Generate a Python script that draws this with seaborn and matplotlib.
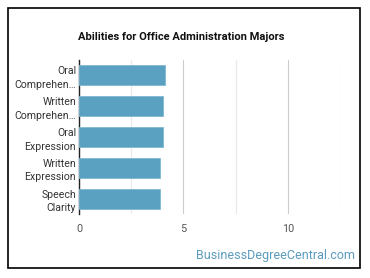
import matplotlib
matplotlib.use('Agg')
import matplotlib.pyplot as plt
import seaborn as sns
import pandas as pd
from matplotlib.patches import Rectangle
from matplotlib.ticker import MultipleLocator

# chart data
abilities = [
    'Oral\nComprehen…',
    'Written\nComprehen…',
    'Oral\nExpression',
    'Written\nExpression',
    'Speech\nClarity'
]
scores = [4.12, 4.0, 4.0, 3.88, 3.88]
x_ticks = [0, 5, 10]

df = pd.DataFrame({'ability': abilities, 'score': scores})

sns.set_style('white')
plt.rcParams['font.family'] = ['Roboto', 'DejaVu Sans']

W, H = 370, 278
fig = plt.figure(figsize=(W / 100, H / 100), dpi=100)

# axes placed in pixel terms
left, right, top, bottom = 79, 340, 60, 214
ax = fig.add_axes([left / W, 1 - bottom / H, (right - left) / W, (bottom - top) / H])

sns.barplot(data=df, x='score', y='ability', color='#5aa1c1', saturation=1,
            width=0.65, edgecolor='#80b8d2', linewidth=0.6, ax=ax, zorder=3)

ax.set_xlim(0, 12.5)
ax.set_ylim(4.5, -0.5)
ax.set_xticks(x_ticks)
ax.xaxis.set_minor_locator(MultipleLocator(2.5))
ax.grid(axis='x', which='major', color='#cccccc', linewidth=0.8, zorder=0)
ax.grid(axis='x', which='minor', color='#e8e8e8', linewidth=0.8, zorder=0)
ax.set_axisbelow(True)

for s in ['top', 'right', 'bottom']:
    ax.spines[s].set_visible(False)
ax.spines['left'].set_color('#222222')
ax.spines['left'].set_linewidth(1.0)

ax.tick_params(axis='both', which='both', length=0)
ax.tick_params(axis='x', labelsize=7.8, labelcolor='#555555', pad=7)
ax.tick_params(axis='y', labelsize=7.6, labelcolor='#333333', pad=2)
for lbl in ax.get_yticklabels():
    lbl.set_linespacing(1.45)
ax.set_xlabel('')
ax.set_ylabel('')

fig.text(181.5 / W, 1 - 37 / H, 'Abilities for Office Administration Majors',
         ha='center', va='center', fontsize=8, fontweight='bold', color='#111111')

fig.text(355 / W, 1 - 255 / H, 'BusinessDegreeCentral.com',
         ha='right', va='center', fontsize=9, color='#5b9bbf')

# outer frame
fig.patches.append(Rectangle((8 / W, 1 - 268 / H), (360 - 8) / W, (268 - 8) / H,
                             transform=fig.transFigure, fill=False,
                             edgecolor='black', linewidth=1.2))

fig.savefig('out.png', dpi=100)
plt.close()
